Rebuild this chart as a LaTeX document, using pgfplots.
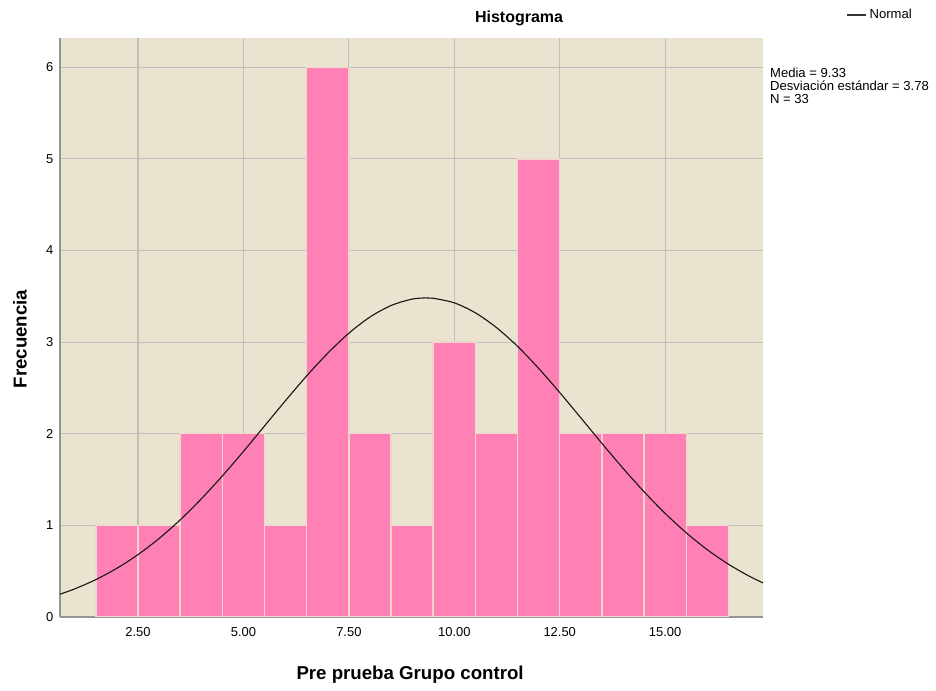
\documentclass[border=0pt]{standalone}
\usepackage{fontspec}
\setmainfont{Liberation Sans}
\usepackage{pgfplots}
\pgfplotsset{compat=1.18}

\definecolor{spssbg}{RGB}{234,227,207}
\definecolor{spsspink}{RGB}{255,128,180}
\definecolor{baredge}{RGB}{240,214,205}
\definecolor{gridgray}{RGB}{190,190,190}
\definecolor{axisgray}{RGB}{150,150,150}

% counts per bin (bins of width 1, centred on 2..16)
\pgfplotstableread{
x  n
2  1
3  1
4  2
5  2
6  1
7  6
8  2
9  1
10 3
11 2
12 5
13 2
14 2
15 2
16 1
}\histdata

\begin{document}
\begin{tikzpicture}
% 1px = 0.75pt; axis box at x 60..763, y 38..617 of a 936x691 picture
\useasboundingbox (-45pt,-55.5pt) rectangle (657pt,462.75pt);
\begin{axis}[
    at={(0,0)}, anchor=south west,
    scale only axis,
    width=527.25pt, height=434.25pt,
    xmin=0.65, xmax=17.32,
    ymin=0, ymax=6.32,
    xtick={2.5,5,7.5,10,12.5,15},
    ytick={0,1,2,3,4,5,6},
    /pgf/number format/assume math mode=true,
    tick label style={font=\fontsize{9.7}{11}\selectfont},
    yticklabel style={xshift=-1.5pt},
    xticklabel style={yshift=-4.5pt, /pgf/number format/fixed,
        /pgf/number format/fixed zerofill, /pgf/number format/precision=2},
    major tick length=0pt,
    grid=major,
    grid style={gridgray, line width=0.8pt},
    axis lines*=left,
    axis line style={-, axisgray, line width=1.5pt},
    axis background/.style={fill=spssbg},
    xlabel={Pre prueba Grupo control},
    ylabel={Frecuencia},
    label style={font=\fontsize{14}{16}\selectfont\bfseries},
    x label style={at={(axis description cs:0.498,-0.1002)}, anchor=center},
    y label style={at={(axis description cs:-0.0569,0.480)}, anchor=center},
    legend style={at={(axis description cs:1.119,1.0397)}, anchor=west,
        draw=none, fill=none, font=\fontsize{9.8}{11}\selectfont, inner sep=0pt},
    clip mode=individual,
]
\addplot[ybar, bar width=1, fill=spsspink, draw=baredge, line width=1.1pt, forget plot]
    table[x=x, y=n] {\histdata};

\addplot[smooth, color=black!90, line width=0.85pt,
    legend image code/.code={\draw[black!80, line width=0.8pt] (0pt,0pt) -- (14.25pt,0pt);}]
    coordinates {
    (0.65,0.249) (1,0.307) (1.5,0.408) (2,0.532) (2.5,0.681) (3,0.857)
    (3.5,1.060) (4,1.289) (4.5,1.540) (5,1.807) (5.5,2.085) (6,2.363)
    (6.5,2.632) (7,2.880) (7.5,3.098) (8,3.274) (8.5,3.400) (9,3.470)
    (9.33,3.483) (9.5,3.479) (10,3.429) (10.5,3.320) (11,3.159) (11.5,2.954)
    (12,2.714) (12.5,2.450) (13,2.174) (13.5,1.895) (14,1.624) (14.5,1.367)
    (15,1.131) (15.5,0.919) (16,0.734) (16.5,0.576) (17,0.444) (17.32,0.373)
    };
\addlegendentry{Normal}

\node[font=\fontsize{12}{13}\selectfont\bfseries, anchor=center]
    at (rel axis cs:0.653,1.0345) {Histograma};
\node[font=\fontsize{9.8}{9.5}\selectfont, anchor=north west, align=left, inner sep=0pt]
    at (rel axis cs:1.0098,0.9482) {Media = 9.33\\Desviación estándar = 3.78\\N = 33};
\end{axis}
\end{tikzpicture}
\end{document}
